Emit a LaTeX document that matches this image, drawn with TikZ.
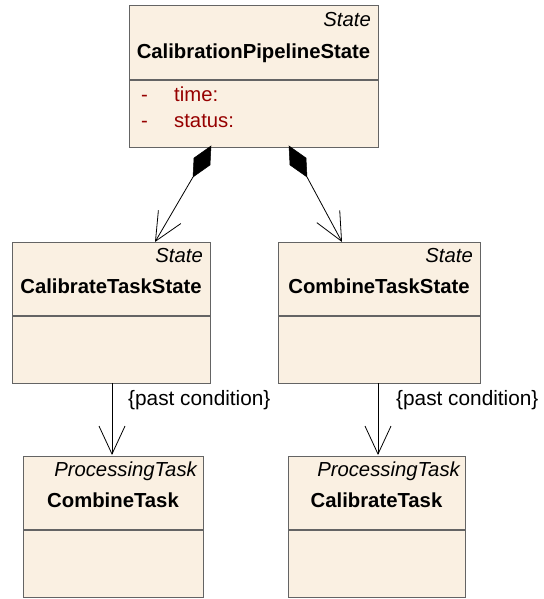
\documentclass[tikz,border=0pt]{standalone}
\usepackage{fontspec}
\setmainfont{Liberation Sans}
\usetikzlibrary{arrows.meta}
\definecolor{cream}{RGB}{250,240,226}
\definecolor{boxline}{RGB}{100,100,100}
\definecolor{attrred}{RGB}{150,0,0}
\tikzset{
  umlbox/.style={draw=boxline, fill=cream, line width=1.2pt, anchor=north west, inner sep=0pt},
  txt/.style={inner sep=0pt, font=\fontsize{20.3}{24}\selectfont},
  stereo/.style={txt, font=\fontsize{20.3}{24}\selectfont\itshape, anchor=base east},
  cname/.style={txt, font=\fontsize{20.3}{24}\selectfont\bfseries, anchor=base},
  attr/.style={txt, text=attrred, anchor=base west},
  lbl/.style={txt, font=\fontsize{20.8}{24}\selectfont, anchor=base west},
  conn/.style={draw=black, line width=0.8pt},
  navarrow/.style={conn, -{Straight Barb[length=28pt,width=26pt]}},
  compdiamond/.style={fill=black, draw=black, line width=0.5pt}
}
\begin{document}
\begin{tikzpicture}[x=1pt,y=-1pt]
\useasboundingbox (0,0) rectangle (543,599);

% boxes
\node[umlbox, minimum width=249pt, minimum height=142pt] (top) at (129,5) {};
\node[umlbox, minimum width=198pt, minimum height=141pt] (cts) at (12,242) {};
\node[umlbox, minimum width=202pt, minimum height=141pt] (cbs) at (278,242) {};
\node[umlbox, minimum width=180pt, minimum height=141pt] (ct) at (23,456) {};
\node[umlbox, minimum width=177pt, minimum height=141pt] (kt) at (288,456) {};

% dividers
\draw[boxline, line width=1.2pt] (top.west |- 0,80) -- (top.east |- 0,80);
\draw[boxline, line width=1.2pt] (cts.west |- 0,316) -- (cts.east |- 0,316);
\draw[boxline, line width=1.2pt] (cbs.west |- 0,316) -- (cbs.east |- 0,316);
\draw[boxline, line width=1.2pt] (ct.west |- 0,530) -- (ct.east |- 0,530);
\draw[boxline, line width=1.2pt] (kt.west |- 0,530) -- (kt.east |- 0,530);

% texts
\node[stereo] (topst) at (371,27) {State};
\node[cname] (topnm) at (253.5,58.5) {CalibrationPipelineState};
\node[attr] (d1) at (141,102) {-};
\node[attr] (a1) at (174,102) {time:};
\node[attr] (d2) at (141,128) {-};
\node[attr] (a2) at (174,128) {status:};

\node[stereo] (ctsst) at (203,262) {State};
\node[cname] (ctsnm) at (111,293) {CalibrateTaskState};
\node[stereo] (cbsst) at (473,262) {State};
\node[cname] (cbsnm) at (379,293) {CombineTaskState};

\node[stereo] (ctst) at (197,476) {ProcessingTask};
\node[cname] (ctnm) at (113,507) {CombineTask};
\node[stereo] (ktst) at (460,476) {ProcessingTask};
\node[cname] (ktnm) at (376.5,507) {CalibrateTask};

% composition connectors
\coordinate (lA) at (211,146);
\coordinate (lB) at (210,165);
\coordinate (lC) at (193,177);
\coordinate (lD) at (194,158);
\coordinate (ltip) at (155,242);
\filldraw[compdiamond] (lA) -- (lD) -- (lC) -- (lB) -- cycle;
\draw[navarrow] (lC) -- (ltip);

\coordinate (rA) at (289,146);
\coordinate (rB) at (306,158);
\coordinate (rC) at (307,177);
\coordinate (rD) at (290,165);
\coordinate (rtip) at (342,242);
\filldraw[compdiamond] (rA) -- (rB) -- (rC) -- (rD) -- cycle;
\draw[navarrow] (rC) -- (rtip);

% past condition connectors
\coordinate (p1s) at (112,383);
\coordinate (p1e) at (112,455);
\draw[navarrow] (p1s) -- (p1e);
\node[lbl] (pc1) at (128,405) {\{past condition\}};

\coordinate (p2s) at (378,383);
\coordinate (p2e) at (378,455);
\draw[navarrow] (p2s) -- (p2e);
\node[lbl] (pc2) at (396,405) {\{past condition\}};
\end{tikzpicture}
\end{document}
